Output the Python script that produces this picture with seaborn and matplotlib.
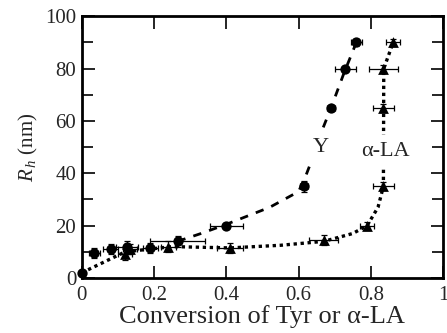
import matplotlib
matplotlib.use("Agg")
import matplotlib.pyplot as plt
import seaborn as sns
import pandas as pd
from matplotlib.ticker import MultipleLocator

# ---- data ----
tyr_x = [0.0, 0.035, 0.08, 0.125, 0.19, 0.265, 0.40, 0.615, 0.69, 0.73, 0.76]
tyr_y = [2.0, 9.5, 11.0, 12.0, 11.5, 14.0, 20.0, 35.0, 65.0, 80.0, 90.0]
tyr_xerr = [0.0, 0.015, 0.02, 0.03, 0.02, 0.075, 0.045, 0.01, 0.01, 0.03, 0.015]
tyr_yerr = [0.0, 2.0, 2.0, 2.0, 2.0, 2.0, 1.0, 2.0, 1.0, 1.0, 1.5]

la_x = [0.12, 0.133, 0.24, 0.41, 0.67, 0.79, 0.835, 0.835, 0.835, 0.862]
la_y = [9.0, 11.0, 12.0, 11.5, 14.5, 20.0, 35.0, 65.0, 80.0, 90.0]
la_xerr = [0.02, 0.02, 0.02, 0.035, 0.04, 0.02, 0.03, 0.03, 0.04, 0.02]
la_yerr = [2.0, 2.0, 2.0, 2.0, 2.0, 1.5, 1.5, 1.5, 1.5, 1.5]

# guide curves drawn through the data in the picture
tyr_curve_x = [0.265, 0.33, 0.40, 0.52, 0.60, 0.62, 0.645, 0.664, 0.69, 0.725, 0.76]
tyr_curve_y = [14.0, 17.0, 20.5, 27.0, 33.0, 39.0, 48.0, 56.0, 65.0, 78.0, 90.0]
la_curve_x = [0.0, 0.12, 0.25, 0.41, 0.55, 0.67, 0.75, 0.79, 0.82, 0.835, 0.836, 0.862]
la_curve_y = [2.0, 10.0, 12.0, 11.5, 12.5, 14.0, 17.0, 20.0, 27.0, 35.0, 80.0, 90.0]

xticks = [0, 0.2, 0.4, 0.6, 0.8, 1]
xticklabels = ["0", "0.2", "0.4", "0.6", "0.8", "1"]
yticks = [0, 20, 40, 60, 80, 100]

sns.set_style("ticks")
plt.rcParams["font.family"] = ["Liberation Serif", "DejaVu Serif"]
plt.rcParams["mathtext.fontset"] = "custom"
plt.rcParams["mathtext.rm"] = "Liberation Serif"
plt.rcParams["mathtext.it"] = "Liberation Serif:italic"

fig = plt.figure(figsize=(4.47, 3.33), dpi=100)
ax = fig.add_axes([81.8 / 447, 1 - 278 / 333, (443 - 81.8) / 447, (278 - 16.3) / 333])

tyr = pd.DataFrame({"x": tyr_x, "y": tyr_y})
la = pd.DataFrame({"x": la_x, "y": la_y})
tyr_c = pd.DataFrame({"x": tyr_curve_x, "y": tyr_curve_y})
la_c = pd.DataFrame({"x": la_curve_x, "y": la_curve_y})

ax.plot(tyr_c["x"], tyr_c["y"], color="black", lw=2.0, dashes=(3.0, 3.0), zorder=2)
ax.plot(la_c["x"], la_c["y"], color="black", lw=2.4, dashes=(1.0, 1.1), zorder=2)

ax.errorbar(tyr_x, tyr_y, xerr=tyr_xerr, yerr=tyr_yerr, fmt="none", ecolor="black",
            elinewidth=0.9, capsize=2.5, capthick=0.9, zorder=3)
ax.errorbar(la_x, la_y, xerr=la_xerr, yerr=la_yerr, fmt="none", ecolor="black",
            elinewidth=0.9, capsize=2.5, capthick=0.9, zorder=3)

sns.scatterplot(data=tyr, x="x", y="y", marker="o", s=55, color="black",
                edgecolor="black", linewidth=0, ax=ax, zorder=4, clip_on=False)
sns.scatterplot(data=la, x="x", y="y", marker="^", s=60, color="black",
                edgecolor="black", linewidth=0, ax=ax, zorder=4, clip_on=False)

ax.set_xlim(0, 1)
ax.set_ylim(0, 100)
ax.set_xticks(xticks)
ax.set_xticklabels(xticklabels)
ax.set_yticks(yticks)
ax.yaxis.set_minor_locator(MultipleLocator(10))
ax.tick_params(which="both", direction="in", top=True, right=True, labelsize=15,
               width=1.2, color="black")
ax.tick_params(axis="x", pad=6)
ax.tick_params(axis="y", pad=4)
ax.tick_params(which="major", length=9)
ax.tick_params(which="minor", length=8)
for sp in ax.spines.values():
    sp.set_linewidth(2.0)
    sp.set_color("black")

ax.set_xlabel("Conversion of Tyr or α-LA", fontsize=19, labelpad=0)
ax.set_ylabel(r"$R_{\,h}$ (nm)", fontsize=15, labelpad=4)

box = dict(facecolor="white", edgecolor="none", pad=5)
ax.text(0.662, 50.0, "Y", fontsize=16, ha="center", va="center", bbox=box, zorder=5)
ax.text(0.84, 48.5, "α-LA", fontsize=16, ha="center", va="center", bbox=box, zorder=5)

fig.savefig("out.png", dpi=100)
